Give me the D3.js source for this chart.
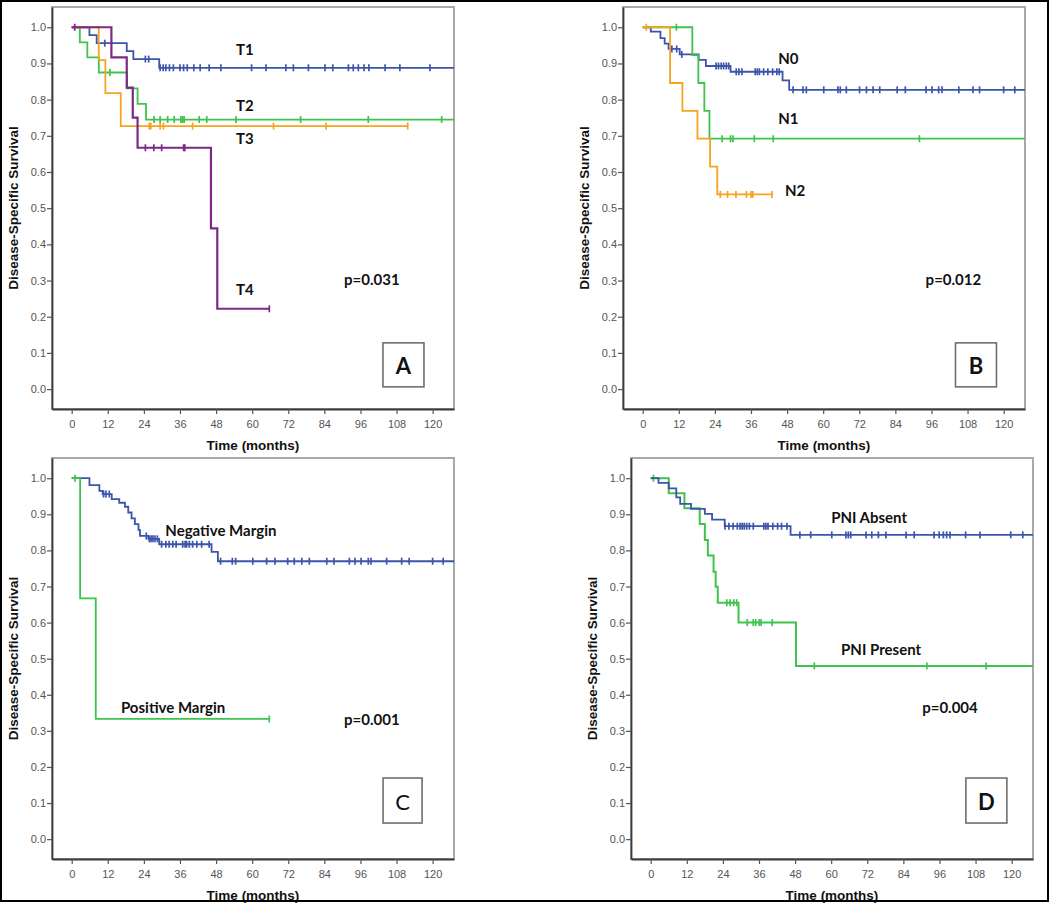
<!DOCTYPE html>
<html><head><meta charset="utf-8">
<script src="https://cdn.jsdelivr.net/npm/d3@7"></script>
<style>body{margin:0;background:#fff}svg{display:block}</style>
</head><body><svg id="c" width="1050" height="903"></svg>
<script>
// ---------- tick labels ----------
const xTicks = [0,12,24,36,48,60,72,84,96,108,120];
const yTicks = [0,0.1,0.2,0.3,0.4,0.5,0.6,0.7,0.8,0.9,1.0];
const xTitle = "Time (months)";
const yTitle = "Disease-Specific Survival";

// ---------- Panel A : T stage ----------
const aT1Steps = [[0,1],[5.9,0.978],[8.3,0.956],[18.3,0.934],[20.5,0.912],[29.1,0.888]];
const aT1Censor = [11.0,24.5,25.6,29.4,30.4,31.3,32.5,33.8,36.0,37.2,38.4,40.6,42.7,45.7,49.6,59.8,64.6,71.2,73.7,78.7,84.2,86.8,92.0,93.6,95.3,97.2,98.8,104.2,109.1,119.1];
const aT1End = 135;
const aT2Steps = [[0,1],[2.7,0.958],[5.2,0.917],[9.0,0.875],[18.4,0.831],[21.9,0.788],[24.7,0.745]];
const aT2Censor = [12.7,27.4,29.4,31.9,34.1,36.3,36.9,37.4,42.4,44.9,54.6,76.1,98.6,123.0];
const aT2End = 135;
const aT3Steps = [[0,1],[9.0,0.909],[11.2,0.818],[16.3,0.727]];
const aT3Censor = [25.8,26.3,29.4,30.5,40.2,67.1,84.6,111.7];
const aT3End = 111.7;
const aT4Steps = [[0,1],[13.2,0.917],[18.3,0.833],[20.3,0.750],[21.9,0.667],[46.3,0.444],[48.4,0.222]];
const aT4Censor = [1.0,24.5,27.3,29.9,37.2,37.6,65.7];
const aT4End = 65.7;

// ---------- Panel B : N stage ----------
const bN0Steps = [[0,1],[2.7,0.988],[5.9,0.970],[7.3,0.955],[8.6,0.940],[12.3,0.925],[18.6,0.910],[21.0,0.893],[29.2,0.877],[46.5,0.853],[48.7,0.827]];
const bN0Censor = [9.7,11.3,13.0,24.4,25.2,26.1,26.9,27.8,28.6,31.1,32.0,33.0,37.4,38.1,38.8,40.2,41.6,43.2,44.6,45.4,50.0,53.3,54.4,60.2,64.9,65.7,67.7,72.1,74.4,76.6,78.8,84.6,87.3,94.2,96.2,98.4,99.5,105.1,109.8,112.0,120.0,123.7];
const bN0End = 135;
const bN1Steps = [[0,1],[16.5,0.923],[18.5,0.846],[20.5,0.769],[22.2,0.692]];
const bN1Censor = [11.2,26.4,29.2,30.0,37.1,43.4,92.0];
const bN1End = 135;
const bN2Steps = [[0,1],[9.1,0.846],[13.2,0.769],[18.2,0.692],[22.4,0.615],[24.8,0.538]];
const bN2Censor = [1.2,25.8,28.2,31.0,34.5,36.0,36.6,43.0];
const bN2End = 43.0;

// ---------- Panel C : margin ----------
const cNegSteps = [[0,1],[5.9,0.981],[9.2,0.965],[10.3,0.956],[13.3,0.942],[15.8,0.932],[17.7,0.921],[18.8,0.905],[19.9,0.889],[21.0,0.873],[22.2,0.857],[22.7,0.840],[25.5,0.832],[29.1,0.817],[46.5,0.796],[48.6,0.770]];
const cNegCensor = [10.6,11.4,12.5,24.8,25.8,26.4,27.0,27.7,28.5,29.9,31.3,32.4,33.6,34.7,36.9,37.7,38.2,39.1,40.2,41.6,43.2,45.7,49.5,53.4,54.5,60.2,64.8,67.6,71.8,74.0,76.5,79.0,84.8,87.2,92.3,94.2,96.2,98.6,99.5,104.7,109.7,112.2,120.0,123.5];
const cNegEnd = 135;
const cPosSteps = [[0,1],[2.8,0.667],[8.0,0.333]];
const cPosCensor = [1.1,65.7];
const cPosEnd = 65.7;

// ---------- Panel D : PNI ----------
const dAbsSteps = [[0,1],[2.6,0.987],[6.0,0.972],[8.5,0.947],[9.8,0.929],[13.4,0.915],[18.0,0.901],[20.4,0.885],[24.6,0.867],[46.5,0.843]];
const dAbsCensor = [24.7,26.0,27.4,28.8,29.7,30.4,31.1,31.9,32.8,34.1,37.6,38.3,39.0,40.6,42.2,43.5,45.3,49.6,53.2,60.2,64.9,65.7,66.5,71.6,73.5,75.7,78.2,84.9,87.6,94.2,95.9,97.3,98.4,99.5,104.7,109.5,119.7,123.7];
const dAbsEnd = 135;
const dPreSteps = [[0,1],[6.0,0.958],[11.2,0.917],[16.3,0.873],[18.0,0.829],[19.0,0.786],[20.9,0.741],[21.6,0.699],[22.3,0.655],[29.2,0.600],[48.3,0.480]];
const dPreCensor = [0.9,25.3,26.4,27.6,28.6,32.1,34.1,34.9,36.1,36.7,40.4,54.4,91.8,111.5];
const dPreEnd = 135;

// ---------- texts ----------
const pValues = ["p=0.031","p=0.012","p=0.001","p=0.004"];
const panelLetters = ["A","B","C","D"];

// ---------- colours ----------
const BLUE = "#3b55ab", GREEN = "#3ec34c", ORANGE = "#f6a31e", PURPLE = "#7c2986";

// ---------- layout (built from the arrays above) ----------
const panels = [
  {left:52, top:7, w:402, h:402, letter:panelLetters[0], letterBold:true, p:pValues[0], pPos:[99.8,0.305], box:[110.3,0.067,41,44],
   series:[
     {steps:aT1Steps,censor:aT1Censor,end:aT1End,color:BLUE,lw:1.8},
     {steps:aT2Steps,censor:aT2Censor,end:aT2End,color:GREEN,lw:1.8},
     {steps:aT3Steps,censor:aT3Censor,end:aT3End,color:ORANGE,lw:1.8},
     {steps:aT4Steps,censor:aT4Censor,end:aT4End,color:PURPLE,lw:2.2}],
   labels:[["T1",57.6,0.94],["T2",57.6,0.785],["T3",57.6,0.694],["T4",57.6,0.277]]},
  {left:623, top:7, w:402, h:402, letter:panelLetters[1], letterBold:true, p:pValues[1], pPos:[103.3,0.305], box:[110.8,0.067,41,44],
   series:[
     {steps:bN0Steps,censor:bN0Censor,end:bN0End,color:BLUE,lw:1.8},
     {steps:bN1Steps,censor:bN1Censor,end:bN1End,color:GREEN,lw:1.8},
     {steps:bN2Steps,censor:bN2Censor,end:bN2End,color:ORANGE,lw:1.8}],
   labels:[["N0",48.4,0.915],["N1",48.4,0.749],["N2",50.7,0.55]]},
  {left:52, top:458, w:402, h:401, letter:panelLetters[2], letterBold:false, p:pValues[2], pPos:[99.8,0.334], box:[110.0,0.107,39,45],
   series:[
     {steps:cNegSteps,censor:cNegCensor,end:cNegEnd,color:BLUE,lw:1.8},
     {steps:cPosSteps,censor:cPosCensor,end:cPosEnd,color:GREEN,lw:1.8}],
   labels:[["Negative Margin",49.6,0.857],["Positive Margin",33.7,0.367]]},
  {left:631, top:458, w:402, h:401, letter:panelLetters[3], letterBold:true, p:pValues[3], pPos:[99.5,0.366], box:[111.6,0.107,41,45],
   series:[
     {steps:dPreSteps,censor:dPreCensor,end:dPreEnd,color:GREEN,lw:2.0},
     {steps:dAbsSteps,censor:dAbsCensor,end:dAbsEnd,color:BLUE,lw:1.8}],
   labels:[["PNI Absent",72.6,0.892],["PNI Present",76.6,0.527]]}
];

const svg = d3.select("#c");
svg.append("rect").attr("width",1050).attr("height",903).attr("fill","#fff");

function valueAt(steps, t){
  let v = steps[0][1];
  for (const s of steps){ if (s[0] <= t) v = s[1]; }
  return v;
}

panels.forEach((p, i) => {
  const g = svg.append("g").attr("transform", `translate(${p.left},${p.top})`);
  const x = d3.scaleLinear().domain([-6.55,127.1]).range([0,p.w]);
  const y = d3.scaleLinear().domain([-0.055,1.056]).range([p.h,0]);

  const clipId = "clip"+i;
  g.append("clipPath").attr("id",clipId).append("rect").attr("width",p.w).attr("height",p.h);

  // frame
  g.append("rect").attr("width",p.w).attr("height",p.h)
    .attr("fill","none").attr("stroke","#a9a9a9").attr("stroke-width",2);

  // axes
  const xa = g.append("g").attr("transform",`translate(0,${p.h})`)
    .call(d3.axisBottom(x).tickValues(xTicks).tickSize(5).tickSizeOuter(0).tickPadding(6).tickFormat(d3.format("d")));
  const ya = g.append("g")
    .call(d3.axisLeft(y).tickValues(yTicks).tickSize(5).tickSizeOuter(0).tickPadding(1).tickFormat(d3.format(".1f")));
  [xa,ya].forEach(a => {
    a.select(".domain").attr("stroke","#3a3a3a").attr("stroke-width",1.8);
    a.selectAll(".tick line").attr("stroke","#555").attr("stroke-width",1.2);
    a.selectAll(".tick text").attr("fill","#555").style("font-family","'Liberation Sans', Arial, sans-serif").style("font-size","11px");
  });

  // axis titles
  g.append("text").attr("x",p.w/2).attr("y",p.h+37).attr("text-anchor","middle")
    .attr("dominant-baseline","middle")
    .style("font-family","'Liberation Sans', Arial, sans-serif").style("font-weight","bold").style("font-size","13.5px")
    .attr("fill","#111").text(xTitle);
  g.append("text").attr("transform",`translate(-38,${p.h/2}) rotate(-90)`).attr("text-anchor","middle")
    .attr("dominant-baseline","middle")
    .style("font-family","'Liberation Sans', Arial, sans-serif").style("font-weight","bold").style("font-size","13.5px")
    .attr("fill","#111").text(yTitle);

  // curves
  const plot = g.append("g").attr("clip-path",`url(#${clipId})`);
  const line = d3.line().x(d=>x(d[0])).y(d=>y(d[1])).curve(d3.curveStepAfter);
  p.series.forEach(s => {
    const pts = s.steps.concat([[s.end, s.steps[s.steps.length-1][1]]]);
    plot.append("path").datum(pts).attr("d",line)
      .attr("fill","none").attr("stroke",s.color).attr("stroke-width",s.lw);
    plot.selectAll(null).data(s.censor).enter().append("line")
      .attr("x1",d=>x(d)).attr("x2",d=>x(d))
      .attr("y1",d=>y(valueAt(s.steps,d))-3.5).attr("y2",d=>y(valueAt(s.steps,d))+3.5)
      .attr("stroke",s.color).attr("stroke-width",1.7);
  });

  // curve labels
  p.labels.forEach(l => {
    g.append("text").attr("x",x(l[1])).attr("y",y(l[2])).attr("text-anchor","middle")
      .attr("dominant-baseline","central")
      .style("font-family","Lato, 'Open Sans', sans-serif").style("font-weight","bold").style("font-size","15px")
      .attr("fill","#111").text(l[0]);
  });
  g.append("text").attr("x",x(p.pPos[0])).attr("y",y(p.pPos[1])).attr("text-anchor","middle")
    .attr("dominant-baseline","central")
    .style("font-family","Lato, 'Open Sans', sans-serif").style("font-weight","bold").style("font-size","15px")
    .attr("fill","#111").text(p.p);

  // letter box
  const bx = x(p.box[0]), by = y(p.box[1]), bw = p.box[2], bh = p.box[3];
  g.append("rect").attr("x",bx-bw/2).attr("y",by-bh/2).attr("width",bw).attr("height",bh)
    .attr("fill","#fff").attr("stroke","#6f6f6f").attr("stroke-width",1.6);
  g.append("text").attr("x",bx).attr("y",by+1).attr("text-anchor","middle").attr("dominant-baseline","central")
    .style("font-family","Lato, 'Open Sans', sans-serif").style("font-weight",p.letterBold?"bold":"normal").style("font-size","22px")
    .attr("fill","#111").text(p.letter);
});

// outer border
svg.append("rect").attr("x",1).attr("y",1).attr("width",1047).attr("height",900)
  .attr("fill","none").attr("stroke","#000").attr("stroke-width",2);
</script>
</body></html>
